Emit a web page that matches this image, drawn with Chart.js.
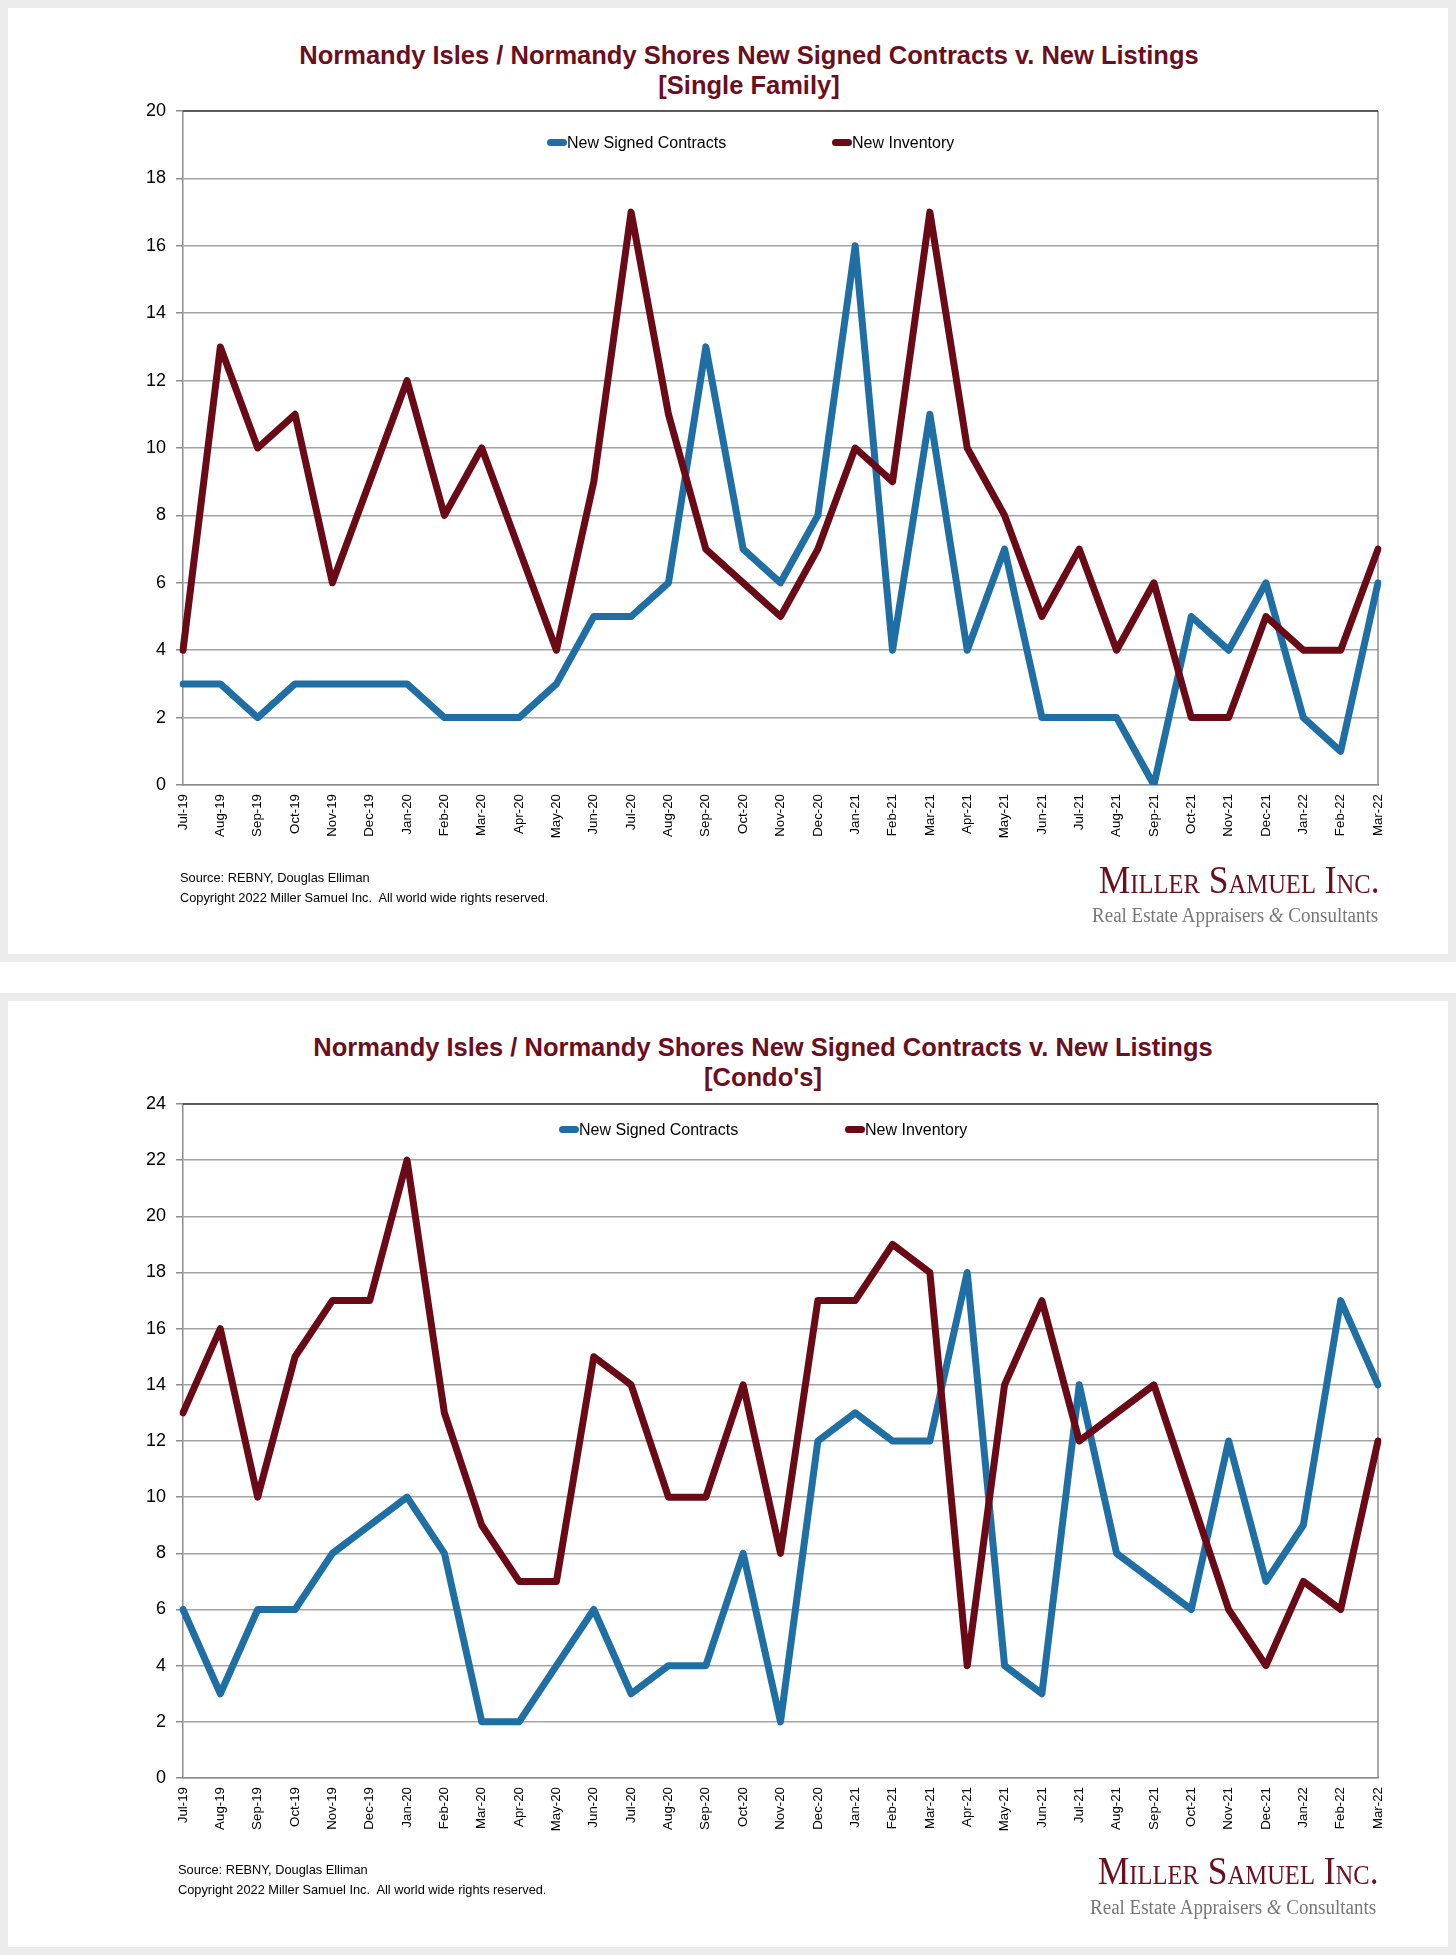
<!DOCTYPE html>
<html>
<head>
<meta charset="utf-8">
<script src="https://cdn.jsdelivr.net/npm/chart.js@4.4.1/dist/chart.umd.min.js"></script>
<style>
  html, body { margin: 0; padding: 0; background: #fff; }
  #page { position: relative; width: 1456px; height: 1955px; overflow: hidden; font-family: "Liberation Sans", Arial, sans-serif; }
  .panel { position: absolute; left: 0; width: 1456px; height: 962px; box-sizing: border-box; border: 8px solid #ececec; background: #fff; }
  canvas { position: absolute; left: 0; }
  .title { position: absolute; width: 1200px; text-align: center; font-weight: bold; font-size: 25.5px; line-height: 30px; color: #6b0f1f; }
  .legend-item { position: absolute; font-size: 16px; line-height: 20px; color: #000; white-space: nowrap; }
  .legend-item i { display: inline-block; width: 20px; height: 7px; border-radius: 4px; vertical-align: middle; margin-top: -2px; }
  .source { position: absolute; font-size: 12.8px; line-height: 20px; color: #000; white-space: nowrap; }
  .logo { position: absolute; font-family: "Liberation Serif", "Times New Roman", serif; font-variant: small-caps; font-size: 39px; line-height: 39px; color: #6b0f1f; white-space: nowrap; transform-origin: right center; transform: scaleX(0.91); }
  .tagline { position: absolute; font-family: "Liberation Serif", "Times New Roman", serif; font-size: 20px; line-height: 24px; color: #777; white-space: nowrap; transform-origin: right center; transform: scaleX(0.95); }
</style>
</head>
<body>
<div id="page">
  <div class="panel" style="top:0"></div>
  <div class="panel" style="top:993px"></div>

  <div class="title" style="left:149px; top:40px">Normandy Isles / Normandy Shores New Signed Contracts v. New Listings<br>[Single Family]</div>
  <canvas id="sf-chart" width="1456" height="962" style="top:0"></canvas>
  <div class="legend-item" style="left:547px; top:133px"><i style="background:#1f6fa5"></i>New Signed Contracts</div>
  <div class="legend-item" style="left:832px; top:133px"><i style="background:#6a0a16"></i>New Inventory</div>
  <div class="source" style="left:180px; top:868px">Source: REBNY, Douglas Elliman<br>Copyright 2022 Miller Samuel Inc.&nbsp; All world wide rights reserved.</div>
  <div class="logo" style="right:76px; top:860px">Miller Samuel Inc.</div>
  <div class="tagline" style="right:78px; top:903px">Real Estate Appraisers <i>&amp;</i> Consultants</div>

  <div class="title" style="left:163px; top:1032px">Normandy Isles / Normandy Shores New Signed Contracts v. New Listings<br>[Condo's]</div>
  <canvas id="condo-chart" width="1456" height="962" style="top:993px"></canvas>
  <div class="legend-item" style="left:559px; top:1120px"><i style="background:#1f6fa5"></i>New Signed Contracts</div>
  <div class="legend-item" style="left:845px; top:1120px"><i style="background:#6a0a16"></i>New Inventory</div>
  <div class="source" style="left:178px; top:1860px">Source: REBNY, Douglas Elliman<br>Copyright 2022 Miller Samuel Inc.&nbsp; All world wide rights reserved.</div>
  <div class="logo" style="right:77px; top:1851px">Miller Samuel Inc.</div>
  <div class="tagline" style="right:80px; top:1895px">Real Estate Appraisers <i>&amp;</i> Consultants</div>
</div>

<script>
const months = ['Jul-19', 'Aug-19', 'Sep-19', 'Oct-19', 'Nov-19', 'Dec-19', 'Jan-20', 'Feb-20', 'Mar-20', 'Apr-20', 'May-20',
  'Jun-20', 'Jul-20', 'Aug-20', 'Sep-20', 'Oct-20', 'Nov-20', 'Dec-20', 'Jan-21', 'Feb-21', 'Mar-21', 'Apr-21', 'May-21',
  'Jun-21', 'Jul-21', 'Aug-21', 'Sep-21', 'Oct-21', 'Nov-21', 'Dec-21', 'Jan-22', 'Feb-22', 'Mar-22'];

// Single family
const sfContracts = [3, 3, 2, 3, 3, 3, 3, 2, 2, 2, 3, 5, 5, 6, 13, 7, 6, 8, 16, 4, 11, 4, 7, 2, 2, 2, 0, 5, 4, 6, 2, 1, 6];
const sfInventory = [4, 13, 10, 11, 6, 9, 12, 8, 10, 7, 4, 9, 17, 11, 7, 6, 5, 7, 10, 9, 17, 10, 8, 5, 7, 4, 6, 2, 2, 5, 4, 4, 7];

// Condos
const condoContracts = [6, 3, 6, 6, 8, 9, 10, 8, 2, 2, 4, 6, 3, 4, 4, 8, 2, 12, 13, 12, 12, 18, 4, 3, 14, 8, 7, 6, 12, 7, 9, 17, 14];
const condoInventory = [13, 16, 10, 15, 17, 17, 22, 13, 9, 7, 7, 15, 14, 10, 10, 14, 8, 17, 17, 19, 18, 4, 14, 17, 12, 13, 14, 10, 6, 4, 7, 6, 12];

const BLUE = '#1f6fa5';
const MAROON = '#6a0a16';
const AXIS_GREY = '#8c8c8c';

/** Draw the top and right edges of the plot box, Excel style */
const frameLines = {
  id: 'frameLines',
  beforeDatasetsDraw(chart) {
    const {ctx, chartArea: a} = chart;
    ctx.save();
    ctx.lineWidth = 1.5;
    ctx.strokeStyle = AXIS_GREY;
    ctx.beginPath();
    ctx.moveTo(a.right, a.top);
    ctx.lineTo(a.right, a.bottom);
    ctx.stroke();
    ctx.strokeStyle = '#3a3a3a';
    ctx.beginPath();
    ctx.moveTo(a.left, a.top);
    ctx.lineTo(a.right, a.top);
    ctx.stroke();
    ctx.restore();
  }
};

const makeChart = (canvasId, contracts, inventory, yMax) => {
  const lineStyle = {
    borderWidth: 7,
    pointRadius: 0,
    tension: 0,
    borderJoinStyle: 'round',
    borderCapStyle: 'round',
    fill: false,
  };

  new Chart(document.getElementById(canvasId), {
    type: 'line',
    data: {
      labels: months,
      datasets: [
        {...lineStyle, label: 'New Signed Contracts', data: contracts, borderColor: BLUE, backgroundColor: BLUE, order: 2},
        {...lineStyle, label: 'New Inventory', data: inventory, borderColor: MAROON, backgroundColor: MAROON, order: 1},
      ]
    },
    options: {
      responsive: false,
      animation: false,
      devicePixelRatio: 1,
      layout: {
        padding: {left: 123, top: 111, right: 78, bottom: 97}
      },
      scales: {
        x: {
          grid: {display: true, drawOnChartArea: false, drawTicks: false},
          border: {color: AXIS_GREY, width: 1.5},
          ticks: {
            autoSkip: false,
            minRotation: 90,
            maxRotation: 90,
            padding: 9,
            color: '#000',
            font: {family: '"Liberation Sans", Arial', size: 13.3},
          },
          afterFit: (scale) => { scale.height = 80; },
        },
        y: {
          min: 0,
          max: yMax,
          grid: {color: '#a3a3a3', lineWidth: 1.5, tickLength: 7, tickColor: AXIS_GREY},
          border: {color: AXIS_GREY, width: 1.5},
          ticks: {
            stepSize: 2,
            padding: 10,
            color: '#000',
            font: {family: '"Liberation Sans", Arial', size: 18},
          },
          afterFit: (scale) => { scale.width = 60; },
        }
      },
      plugins: {
        legend: {display: false},
        title: {display: false},
        tooltip: {enabled: false},
      }
    },
    plugins: [frameLines],
  });
};

makeChart('sf-chart', sfContracts, sfInventory, 20);
makeChart('condo-chart', condoContracts, condoInventory, 24);
</script>
</body>
</html>
